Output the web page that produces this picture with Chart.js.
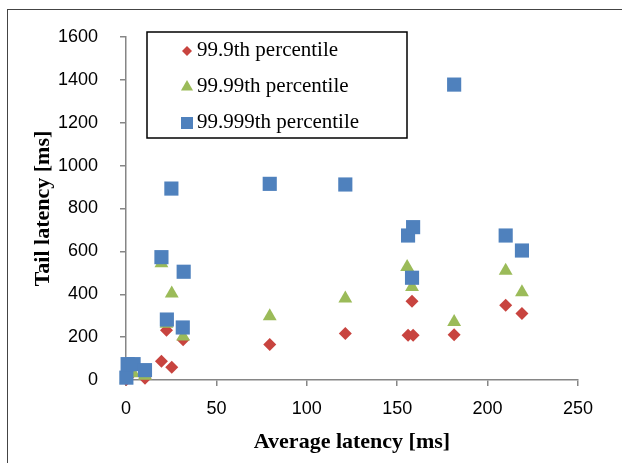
<!DOCTYPE html>
<html>
<head>
<meta charset="utf-8">
<script src="https://cdn.jsdelivr.net/npm/chart.js@4.4.0/dist/chart.umd.min.js"></script>
<style>
    html, body { margin: 0; padding: 0; background: #fff; overflow: hidden; }
    #wrap { position: relative; width: 622px; height: 463px; }
    #frame { position: absolute; left: 7px; top: 9px; width: 640px; height: 480px; border: 1px solid #444; box-sizing: border-box; }
    canvas { position: absolute; left: 0; top: 0; }
</style>
</head>
<body>
<div id="wrap">
    <div id="frame"></div>
    <canvas id="tailChart" width="622" height="463"></canvas>
</div>
<script>
// Values
const seriesLabels = ['99.9th percentile', '99.99th percentile', '99.999th percentile'];

const p999X = [0.2, 1.5, 10.5, 19.6, 22.4, 25.3, 31.6, 79.5, 121.3, 156, 158.8, 158.2, 181.5, 210, 219];
const p999Y = [2, 18, 8, 88, 232, 59, 188, 166, 217, 209, 209, 367, 211, 349, 310];

const p9999X = [0.2, 4, 10.5, 19.6, 22.4, 25.3, 31.6, 79.5, 121.3, 155.5, 158.2, 181.5, 210, 219];
const p9999Y = [3, 31, 20, 545, 262, 403, 203, 297, 380, 527, 434, 271, 510, 409];

const p99999X = [0.2, 0.9, 4.2, 10.5, 19.6, 22.6, 25.1, 31.9, 31.4, 79.5, 121.3, 156, 158.8, 158.2, 181.5, 210, 219];
const p99999Y = [11, 74, 74, 46, 573, 282, 893, 505, 245, 915, 912, 674, 713, 477, 1378, 674, 604];

const xTicks = [0, 50, 100, 150, 200, 250];
const yTicks = [0, 200, 400, 600, 800, 1000, 1200, 1400, 1600];

function toPoints(xs, ys) {
    return xs.map((x, i) => ({ x: x, y: ys[i] }));
}

const axisColor = '#868686';
const tickFont = { family: "'Liberation Sans', Arial, sans-serif", size: 18 };
const titleFont = { family: "'Liberation Serif', 'Times New Roman', serif", size: 22, weight: 'bold' };

// legend box drawn inside the plot, like the original
const boxLegend = {
    id: 'boxLegend',
    afterDraw(chart) {
        const ctx = chart.ctx;
        ctx.save();
        ctx.strokeStyle = '#000';
        ctx.lineWidth = 1.5;
        ctx.strokeRect(147, 32, 260, 106);
        ctx.font = "21px 'Liberation Serif', 'Times New Roman', serif";
        ctx.fillStyle = '#000';
        ctx.textBaseline = 'middle';
        const rowY = [50, 86, 122];
        const legendRadius = [5, 7, 8.5];
        chart.data.datasets.forEach((ds, i) => {
            ctx.fillStyle = ds.backgroundColor;
            ctx.strokeStyle = ds.backgroundColor;
            Chart.helpers.drawPoint(ctx, { pointStyle: ds.pointStyle, radius: legendRadius[i], borderWidth: 0 }, 187, rowY[i] + 1);
            ctx.fillStyle = '#000';
            ctx.fillText(ds.label, 197, rowY[i]);
        });
        ctx.restore();
    }
};

new Chart(document.getElementById('tailChart'), {
    type: 'scatter',
    data: {
        datasets: [{
            label: seriesLabels[0],
            data: toPoints(p999X, p999Y),
            backgroundColor: '#C8443F',
            borderColor: '#C8443F',
            pointStyle: 'rectRot',
            pointRadius: 6.5,
            borderWidth: 0,
            clip: false,
            order: 3
        }, {
            label: seriesLabels[1],
            data: toPoints(p9999X, p9999Y),
            backgroundColor: '#9BBB59',
            borderColor: '#9BBB59',
            pointStyle: 'triangle',
            pointRadius: 8,
            borderWidth: 0,
            clip: false,
            order: 2
        }, {
            label: seriesLabels[2],
            data: toPoints(p99999X, p99999Y),
            backgroundColor: '#4F81BD',
            borderColor: '#4F81BD',
            pointStyle: 'rect',
            pointRadius: 10,
            borderWidth: 0,
            clip: false,
            order: 1
        }]
    },
    options: {
        responsive: false,
        animation: false,
        devicePixelRatio: 1,
        layout: { padding: { top: 37, right: 44, left: 0, bottom: 0 } },
        plugins: {
            legend: { display: false },
            tooltip: { enabled: false }
        },
        scales: {
            x: {
                type: 'linear',
                min: 0,
                max: 250,
                afterBuildTicks: (scale) => { scale.ticks = xTicks.map(v => ({ value: v })); },
                afterFit: (scale) => { scale.height = 83; },
                grid: { drawOnChartArea: false, color: axisColor, tickLength: 6, lineWidth: 1.5 },
                border: { color: axisColor, width: 1.5 },
                ticks: { color: '#000', font: tickFont, padding: 12, maxRotation: 0, callback: (v) => String(v) },
                title: { display: true, text: 'Average latency [ms]', color: '#000', font: titleFont, padding: { top: 0, bottom: 7 } }
            },
            y: {
                type: 'linear',
                min: 0,
                max: 1600,
                afterBuildTicks: (scale) => { scale.ticks = yTicks.map(v => ({ value: v })); },
                afterFit: (scale) => { scale.width = 126; },
                grid: { drawOnChartArea: false, color: axisColor, tickLength: 6, lineWidth: 1.5 },
                border: { color: axisColor, width: 1.5 },
                ticks: { color: '#000', font: tickFont, padding: 22, callback: (v) => String(v) },
                title: { display: true, text: 'Tail latency [ms]', color: '#000', font: titleFont, padding: { top: 30, bottom: 0 } }
            }
        }
    },
    plugins: [boxLegend]
});
</script>
</body>
</html>
